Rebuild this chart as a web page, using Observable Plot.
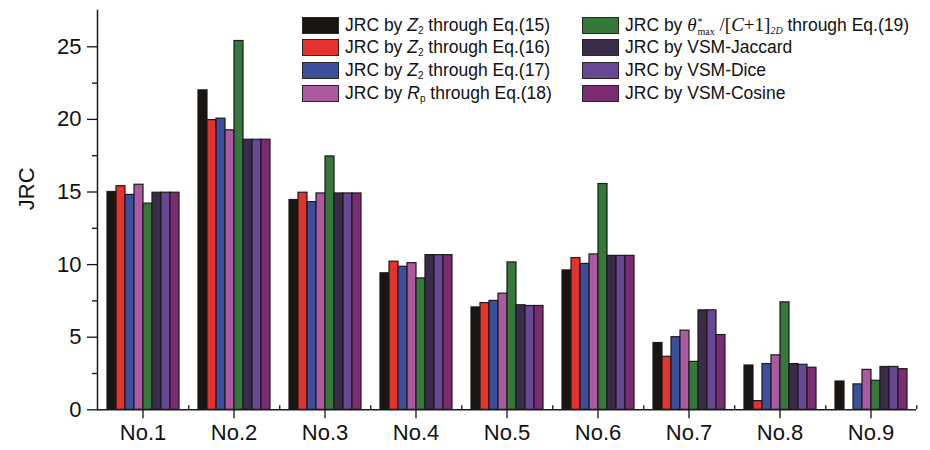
<!DOCTYPE html>
<html>
<head>
<meta charset="utf-8">
<script src="https://cdn.jsdelivr.net/npm/d3@7"></script>
<script src="https://cdn.jsdelivr.net/npm/@observablehq/plot@0.6"></script>
<style>
  body { margin: 0; background: #fff; }
  #wrap { position: relative; width: 930px; height: 450px; font-family: "Liberation Sans", Arial, sans-serif; }
  .leg { position: absolute; font-size: 17.5px; color: #111; }
  .row { height: 22.6px; display: flex; align-items: center; white-space: nowrap; }
  .sw { display: inline-block; width: 37px; height: 17px; border: 1.2px solid #2a2626; margin-right: 6px; box-sizing: border-box; }
  sub { font-size: 10px; vertical-align: -3px; }
  .serif { font-family: "Liberation Serif", "DejaVu Serif", serif; font-size: 19px; }
  .ss { display: inline-flex; flex-direction: column; font-size: 10px; line-height: 10px; vertical-align: middle; margin-left: 1px; }
</style>
</head>
<body>
<div id="wrap"></div>
<script>
const categories = ["No.1", "No.2", "No.3", "No.4", "No.5", "No.6", "No.7", "No.8", "No.9"];
const seriesKeys = ["Eq15", "Eq16", "Eq17", "Eq18", "Eq19", "Jaccard", "Dice", "Cosine"];
const colors = ["#181512", "#e4322c", "#3b4f9c", "#ab5aa2", "#34793a", "#3b2b4b", "#674895", "#7b2b6f"];
const legendLabels = [
  'JRC by <i>Z</i><sub>2</sub> through Eq.(15)',
  'JRC by <i>Z</i><sub>2</sub> through Eq.(16)',
  'JRC by <i>Z</i><sub>2</sub> through Eq.(17)',
  'JRC by <i>R</i><sub>p</sub> through Eq.(18)',
  'JRC by <span class="serif"><i>θ</i><span class="ss"><span>*</span><span>max</span></span> /[<i>C</i>+1]<sub><i>2D</i></sub></span> through Eq.(19)',
  'JRC by VSM-Jaccard',
  'JRC by VSM-Dice',
  'JRC by VSM-Cosine'
];

const eq15    = [15.0, 22.0, 14.45, 9.4, 7.05, 9.6, 4.6, 3.05, 1.95];
const eq16    = [15.4, 19.95, 14.95, 10.2, 7.35, 10.45, 3.65, 0.6, null];
const eq17    = [14.8, 20.05, 14.3, 9.85, 7.5, 10.05, 5.0, 3.15, 1.75];
const eq18    = [15.5, 19.25, 14.9, 10.1, 8.0, 10.7, 5.45, 3.75, 2.75];
const eq19    = [14.2, 25.4, 17.45, 9.05, 10.15, 15.55, 3.3, 7.4, 2.0];
const jaccard = [14.95, 18.6, 14.9, 10.65, 7.2, 10.6, 6.85, 3.15, 2.95];
const dice    = [14.95, 18.6, 14.9, 10.65, 7.15, 10.6, 6.85, 3.1, 2.95];
const cosine  = [14.95, 18.6, 14.9, 10.65, 7.15, 10.6, 5.15, 2.9, 2.8];

const majorTicks = [0, 5, 10, 15, 20, 25];
const minorTicks = [2.5, 7.5, 12.5, 17.5, 22.5];

const valueArrays = [eq15, eq16, eq17, eq18, eq19, jaccard, dice, cosine];
const data = [];
categories.forEach((cat, i) => {
  seriesKeys.forEach((key, j) => {
    const v = valueArrays[j][i];
    if (v != null) data.push({cat, key, value: v});
  });
});

const W = 930, mL = 95, mR = 11.5;
const step = (W - mL - mR) / categories.length;

const chart = Plot.plot({
  width: W, height: 450,
  marginLeft: mL, marginRight: mR, marginTop: 10, marginBottom: 40.7,
  style: {fontFamily: "'Liberation Sans', Arial, sans-serif", background: "white", color: "#111"},
  fx: {domain: categories, padding: 0, label: null},
  x: {domain: seriesKeys, paddingInner: 0, paddingOuter: 0.98, axis: null},
  y: {domain: [0, 27.5], label: null},
  color: {domain: seriesKeys, range: colors},
  marks: [
    Plot.barY(data, {fx: "cat", x: "key", y: "value", fill: "key", stroke: "#1c1a1a", strokeWidth: 1.2}),
    Plot.ruleY([0], {stroke: "#1a1a1a", strokeWidth: 1.5}),
    Plot.frame({anchor: "left", facetAnchor: "left", stroke: "#1a1a1a", strokeWidth: 1.5}),
    Plot.axisY({ticks: majorTicks, tickSize: 10, tickPadding: 6, fontSize: 22, label: null, tickFormat: d => d, strokeWidth: 1.3}),
    Plot.axisY({ticks: minorTicks, tickSize: 5, tickFormat: () => "", label: null, strokeWidth: 1.3}),
    Plot.axisFx({anchor: "bottom", tickSize: 9, tickPadding: 6, fontSize: 22, label: null, strokeWidth: 1.3}),
    Plot.axisFx({anchor: "bottom", tickSize: -4, tickFormat: () => "", label: null, dx: step / 2, strokeWidth: 1.3}),
    Plot.text(["JRC"], {frameAnchor: "left", dx: -71, rotate: -90, fontSize: 22, facetAnchor: "left", fill: "#111"})
  ]
});

const wrap = document.getElementById("wrap");
wrap.appendChild(chart);

function makeLegend(left, top, idx) {
  const div = document.createElement("div");
  div.className = "leg";
  div.style.left = left + "px";
  div.style.top = top + "px";
  idx.forEach(i => {
    const row = document.createElement("div");
    row.className = "row";
    row.innerHTML = `<span class="sw" style="background:${colors[i]}"></span><span>${legendLabels[i]}</span>`;
    div.appendChild(row);
  });
  wrap.appendChild(div);
}
makeLegend(302, 14, [0, 1, 2, 3]);
makeLegend(582, 14, [4, 5, 6, 7]);
</script>
</body>
</html>
